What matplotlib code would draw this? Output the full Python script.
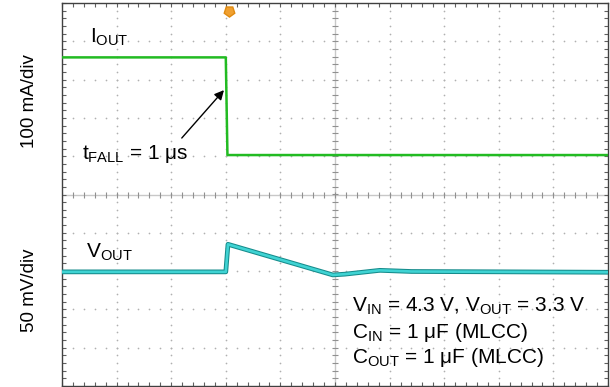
import numpy as np
import matplotlib
matplotlib.use("Agg")
import matplotlib.pyplot as plt

plt.rcParams['font.family'] = ['Liberation Sans', 'DejaVu Sans']
plt.rcParams['mathtext.fontset'] = 'custom'
plt.rcParams['mathtext.rm'] = 'Liberation Sans'
plt.rcParams['mathtext.it'] = 'Liberation Sans:italic'
plt.rcParams['mathtext.bf'] = 'Liberation Sans:bold'

# scope traces, in screen divisions (x: 0..10, y: -5..5)
t_iout = [0.0, 3.0, 3.03, 10.0]
y_iout = [3.58, 3.58, 1.03, 1.03]

t_vout = [0.0, 3.0, 3.04, 4.96, 5.18, 5.82, 6.4, 10.0]
y_vout = [-2.02, -2.02, -1.30, -2.10, -2.08, -1.98, -2.01, -2.03]

trig_x = 3.06

fig = plt.figure(figsize=(6.10, 3.87), dpi=100)
ax = fig.add_axes([62 / 610, 1 / 387, 546 / 610, 383 / 387])
ax.set_xlim(0, 10)
ax.set_ylim(-5, 5)

# dotted graticule
minor = np.arange(-5, 5.01, 0.2)
minor_x = np.arange(0, 10.01, 0.2)
for k in range(1, 10):
    if k != 5:
        ax.scatter(np.full(minor.size, k), minor, s=1.5, color='#b0b0b0', lw=0, zorder=1)
for k in range(-4, 5):
    if k != 0:
        ax.scatter(minor_x, np.full(minor_x.size, k), s=1.5, color='#b0b0b0', lw=0, zorder=1)

# center cross with tick marks
ax.axhline(0, color='#c8c8c8', lw=1.0, zorder=1)
ax.axvline(5, color='#c8c8c8', lw=1.0, zorder=1)
ax.plot(minor_x, np.zeros(minor_x.size), ls='', marker='|', ms=4, mew=0.8, color='#909090', zorder=1)
ax.plot(np.full(minor.size, 5), minor, ls='', marker='_', ms=4, mew=0.8, color='#909090', zorder=1)

ax.xaxis.set_major_locator(plt.MultipleLocator(1))
ax.xaxis.set_minor_locator(plt.MultipleLocator(0.2))
ax.yaxis.set_major_locator(plt.MultipleLocator(1))
ax.yaxis.set_minor_locator(plt.MultipleLocator(0.2))
ax.tick_params(which='both', direction='in', length=3, width=0.8, color='#606060',
               top=True, right=True, labelbottom=False, labelleft=False)
for sp in ax.spines.values():
    sp.set_color('#404040')
    sp.set_linewidth(1.0)

# traces
ax.plot(t_iout, y_iout, color='#22bb22', lw=1.8, zorder=3)
ax.plot(t_vout, y_vout, color='#168c8c', lw=3.4, zorder=3, solid_joinstyle='round')
ax.plot(t_vout, y_vout, color='#3fd3d3', lw=1.9, zorder=4, solid_joinstyle='round')

# trigger marker
ax.plot([trig_x], [4.8], marker=(5, 0, 180), ms=8, color='#f0a030', mec='#e08a10',
        clip_on=False, zorder=5)

fs = 15
ax.text(0.51, 3.96, r'I$_{\mathrm{OUT}}$', fontsize=fs, va='baseline')
ax.text(0.44, -1.66, r'V$_{\mathrm{OUT}}$', fontsize=fs, va='baseline')
ax.text(0.37, 0.93, r't$_{\mathrm{FALL}}$ = 1 μs', fontsize=fs, va='baseline')
ax.annotate('', xy=(3.0, 2.78), xytext=(2.16, 1.42),
            arrowprops=dict(arrowstyle='-|>', color='black', lw=1.0, mutation_scale=14))

ax.text(5.31, -3.07, r'V$_{\mathrm{IN}}$ = 4.3 V, V$_{\mathrm{OUT}}$ = 3.3 V', fontsize=fs, va='baseline')
ax.text(5.31, -3.75, r'C$_{\mathrm{IN}}$ = 1 μF (MLCC)', fontsize=fs, va='baseline')
ax.text(5.31, -4.40, r'C$_{\mathrm{OUT}}$ = 1 μF (MLCC)', fontsize=fs, va='baseline')

fig.text(30 / 610, 1 - 101 / 387, '100 mA/div', rotation=90, fontsize=13.5, ha='center', va='center')
fig.text(30 / 610, 1 - 290 / 387, '50 mV/div', rotation=90, fontsize=13.5, ha='center', va='center')

fig.savefig('out.png', dpi=100)
